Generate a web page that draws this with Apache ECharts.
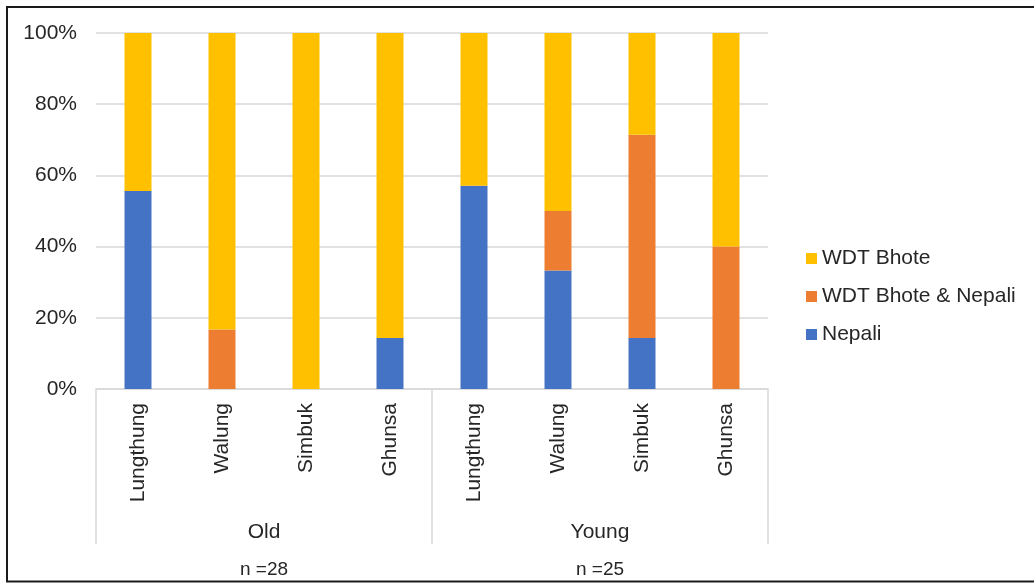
<!DOCTYPE html>
<html>
<head>
<meta charset="utf-8">
<script src="https://cdn.jsdelivr.net/npm/echarts@6/dist/echarts.min.js"></script>
<style>html,body{margin:0;padding:0;background:#fff;}#c{width:1034px;height:584px;}</style>
</head>
<body>
<div id="c"></div>
<script>
const categories = ['Lungthung', 'Walung', 'Simbuk', 'Ghunsa', 'Lungthung', 'Walung', 'Simbuk', 'Ghunsa'];
const groups = ['Old', 'Young'];
const sampleSizes = ['n =28', 'n =25'];
const yTicks = [0, 20, 40, 60, 80, 100];
const nepali = [55.6, 0, 0, 14.3, 57.1, 33.3, 14.3, 0];
const bhoteNepali = [0, 16.7, 0, 0, 0, 16.7, 57.1, 40.0];
const bhote = [44.4, 83.3, 100, 85.7, 42.9, 50.0, 28.6, 60.0];

const FONT = 'Liberation Sans, Arial, sans-serif';
const TXT = '#262626';
const chart = echarts.init(document.getElementById('c'), null, {renderer: 'canvas'});
chart.setOption({
  animation: false,
  backgroundColor: '#ffffff',
  textStyle: {fontFamily: FONT},
  grid: {left: 96, right: 266, top: 33, bottom: 195, containLabel: false},
  legend: {
    orient: 'vertical', left: 806, top: 248, padding: 0,
    itemWidth: 11, itemHeight: 11, itemGap: 17,
    icon: 'rect',
    textStyle: {fontSize: 21, color: TXT, fontFamily: FONT},
    data: ['WDT Bhote', 'WDT Bhote & Nepali', 'Nepali']
  },
  xAxis: [
    {
      type: 'category', data: categories, position: 'bottom',
      axisLine: {show: true, lineStyle: {color: '#d9d9d9', width: 1.5}},
      axisTick: {show: false},
      axisLabel: {rotate: 90, margin: 14, fontSize: 21, color: TXT, fontFamily: FONT, interval: 0}
    },
    {
      type: 'category', data: groups, position: 'bottom', offset: 0,
      axisLine: {show: false},
      axisTick: {show: true, interval: 0, length: 155, lineStyle: {color: '#d9d9d9', width: 1.5}},
      axisLabel: {margin: 133, fontSize: 21, color: TXT, fontFamily: FONT, interval: 0},
      splitLine: {show: false}
    },
    {
      type: 'category', data: sampleSizes, position: 'bottom', offset: 0,
      axisLine: {show: false},
      axisTick: {show: false},
      axisLabel: {margin: 171, fontSize: 19, color: TXT, fontFamily: FONT, interval: 0},
      splitLine: {show: false}
    }
  ],
  yAxis: {
    type: 'value', min: yTicks[0], max: yTicks[yTicks.length - 1], interval: 20,
    axisLine: {show: false}, axisTick: {show: false},
    axisLabel: {formatter: '{value}%', fontSize: 21, color: TXT, margin: 19, fontFamily: FONT},
    splitLine: {lineStyle: {color: '#d9d9d9', width: 1.5}}
  },
  series: [
    {name: 'Nepali', type: 'bar', stack: 's', data: nepali, barWidth: 27, itemStyle: {color: '#4472C4'}},
    {name: 'WDT Bhote & Nepali', type: 'bar', stack: 's', data: bhoteNepali, barWidth: 27, itemStyle: {color: '#ED7D31'}},
    {name: 'WDT Bhote', type: 'bar', stack: 's', data: bhote, barWidth: 27, itemStyle: {color: '#FFC000'}}
  ],
  graphic: [
    {type: 'polyline', shape: {points: [[1034, 7], [7, 7], [7, 581.5], [1034, 581.5]]},
     style: {stroke: '#1a1a1a', lineWidth: 2, fill: null}, silent: true}
  ]
});
</script>
</body>
</html>
